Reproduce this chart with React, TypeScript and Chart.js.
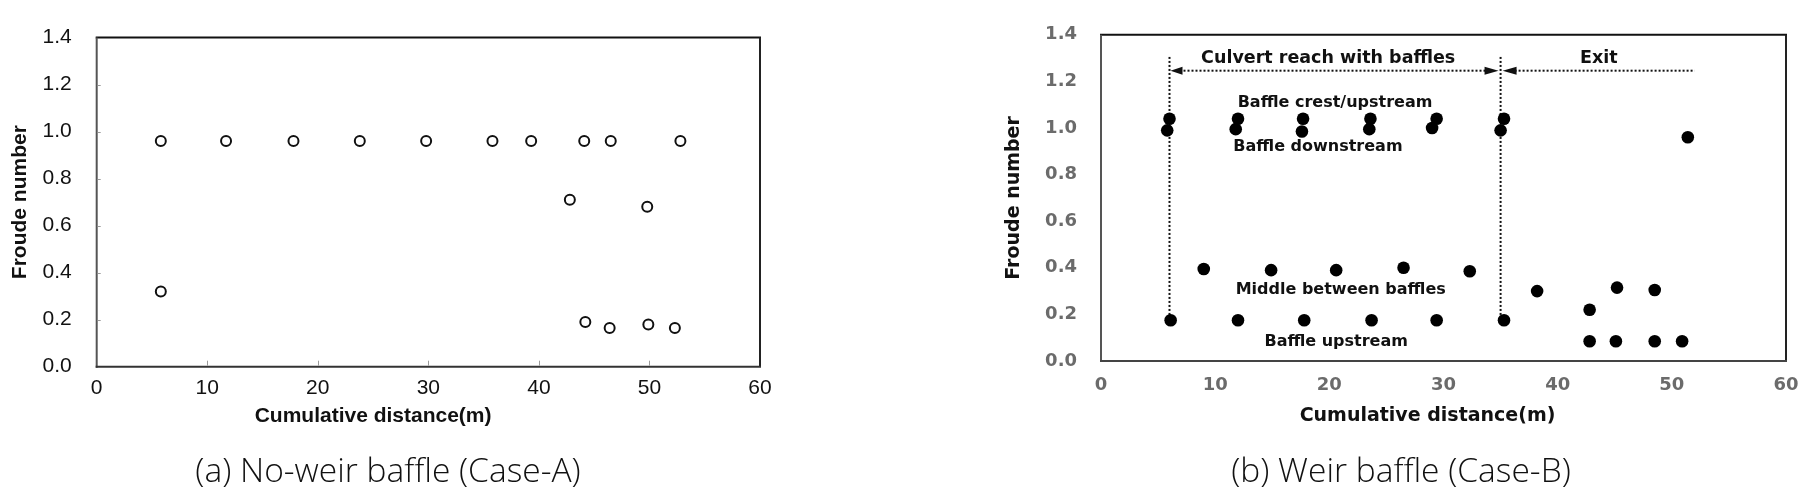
import React, { useEffect, useRef } from "react";
import { Chart, registerables } from "chart.js";

Chart.register(...registerables);

// ---------- shared axes ----------
const X_TICKS = [0, 10, 20, 30, 40, 50, 60];
const Y_TICKS = [0, 0.2, 0.4, 0.6, 0.8, 1.0, 1.2, 1.4];
const X_TITLE = "Cumulative distance(m)";
const Y_TITLE = "Froude number";

// ---------- (a) Case-A : no-weir baffle ----------
const caseA_x = [5.8, 11.7, 17.8, 23.8, 29.8, 35.8, 39.3, 44.1, 46.5, 52.8, 42.8, 49.8, 5.8, 44.2, 46.4, 49.9, 52.3];
const caseA_y = [0.96, 0.96, 0.96, 0.96, 0.96, 0.96, 0.96, 0.96, 0.96, 0.96, 0.71, 0.68, 0.32, 0.19, 0.165, 0.18, 0.165];

// ---------- (b) Case-B : weir baffle ----------
const crest_x = [6.0, 12.0, 17.7, 23.6, 29.4, 35.3];
const crest_y = [1.04, 1.04, 1.04, 1.04, 1.04, 1.04];
const down_x = [5.8, 11.8, 17.6, 23.5, 29.0, 35.0];
const down_y = [0.99, 0.995, 0.985, 0.995, 1.0, 0.99];
const middle_x = [9.0, 14.9, 20.6, 26.5, 32.3];
const middle_y = [0.395, 0.39, 0.39, 0.4, 0.385];
const upstream_x = [6.1, 12.0, 17.8, 23.7, 29.4, 35.3];
const upstream_y = [0.175, 0.175, 0.175, 0.175, 0.175, 0.175];
const exit_x = [38.2, 42.8, 45.2, 48.5, 51.4, 42.8, 45.1, 48.5, 50.9];
const exit_y = [0.3, 0.22, 0.315, 0.305, 0.96, 0.085, 0.085, 0.085, 0.085];

// annotation anchors (data units)
const REACH_BOUNDS = [6, 35, 52];
const GUIDE_TOP = 1.305;
const GUIDE_BOTTOM = 0.19;
const ARROW_LEVEL = 1.246;
const NOTE_TEXT = ["Culvert reach with baffles", "Exit", "Baffle crest/upstream", "Baffle downstream", "Middle between baffles", "Baffle upstream"];
const NOTE_X = [19.9, 43.6, 20.5, 19.0, 21.0, 20.6];
const NOTE_Y = [1.3, 1.3, 1.11, 0.917, 0.306, 0.082];

const CAPTION_A = "(a) No-weir baffle (Case-A)";
const CAPTION_B = "(b) Weir baffle (Case-B)";

const zip = (xs: number[], ys: number[]) => xs.map((x, i) => ({ x, y: ys[i] }));

const framePlugin = {
  id: "frame",
  afterDraw(chart: any, _a: any, opts: any) {
    const { ctx, chartArea: a } = chart;
    ctx.save();
    ctx.lineWidth = 2;
    const seg = (c: string, x1: number, y1: number, x2: number, y2: number) => {
      ctx.strokeStyle = c;
      ctx.beginPath();
      ctx.moveTo(x1, y1);
      ctx.lineTo(x2, y2);
      ctx.stroke();
    };
    seg(opts.top, a.left - 1, a.top, a.right + 1, a.top);
    seg(opts.right, a.right, a.top, a.right, a.bottom);
    seg(opts.left, a.left, a.top, a.left, a.bottom + 1);
    seg(opts.bottom, a.left - 1, a.bottom, a.right + 1, a.bottom);
    if (opts.innerTicks) {
      ctx.lineWidth = 1;
      ctx.strokeStyle = "#9a9a9a";
      const { x, y } = chart.scales;
      y.ticks.forEach((t: any) => {
        const py = Math.round(y.getPixelForValue(t.value)) + 0.5;
        if (py > a.top + 2 && py < a.bottom - 2) {
          ctx.beginPath();
          ctx.moveTo(a.left + 1, py);
          ctx.lineTo(a.left + 4, py);
          ctx.stroke();
        }
      });
      x.ticks.forEach((t: any) => {
        const px = Math.round(x.getPixelForValue(t.value)) + 0.5;
        if (px > a.left + 2 && px < a.right - 2) {
          ctx.beginPath();
          ctx.moveTo(px, a.bottom - 1);
          ctx.lineTo(px, a.bottom - 6);
          ctx.stroke();
        }
      });
    }
    // x-axis title
    const xs = chart.scales.x;
    ctx.fillStyle = "#111";
    ctx.font = opts.titleFont;
    ctx.textAlign = "center";
    ctx.textBaseline = "middle";
    ctx.fillText(X_TITLE, xs.getPixelForValue(opts.titleAt), a.bottom + opts.titleOffset);
    ctx.restore();
  },
};

const guidePlugin = {
  id: "guides",
  beforeDatasetsDraw(chart: any) {
    const { ctx, scales } = chart;
    const { x, y } = scales;
    const [x0, x1, x2] = REACH_BOUNDS.map((v) => x.getPixelForValue(v));
    const yTop = y.getPixelForValue(GUIDE_TOP);
    const yBot = y.getPixelForValue(GUIDE_BOTTOM);
    const yArr = y.getPixelForValue(ARROW_LEVEL);
    ctx.save();
    ctx.strokeStyle = "#111";
    ctx.fillStyle = "#111";
    ctx.lineWidth = 2;
    ctx.setLineDash([2, 2]);
    [x0, x1].forEach((px) => {
      ctx.beginPath();
      ctx.moveTo(px, yTop);
      ctx.lineTo(px, yBot);
      ctx.stroke();
    });
    ctx.beginPath();
    ctx.moveTo(x0 + 10, yArr);
    ctx.lineTo(x1 - 14, yArr);
    ctx.stroke();
    ctx.beginPath();
    ctx.moveTo(x1 + 14, yArr);
    ctx.lineTo(x2, yArr);
    ctx.stroke();
    ctx.setLineDash([]);
    const head = (tip: number, dir: number, len: number) => {
      ctx.beginPath();
      ctx.moveTo(tip, yArr);
      ctx.lineTo(tip + dir * len, yArr - 4);
      ctx.lineTo(tip + dir * len, yArr + 4);
      ctx.closePath();
      ctx.fill();
    };
    head(x0 + 1, 1, 12);
    head(x1 - 2, -1, 14);
    head(x1 + 2, 1, 14);
    ctx.restore();
  },
  afterDatasetsDraw(chart: any) {
    const { ctx, scales } = chart;
    const { x, y } = scales;
    ctx.save();
    ctx.fillStyle = "#111";
    ctx.textAlign = "center";
    ctx.textBaseline = "middle";
    NOTE_TEXT.forEach((t, i) => {
      ctx.font = `bold ${i < 2 ? 17.5 : 16}px "DejaVu Sans"`;
      ctx.fillText(t, x.getPixelForValue(NOTE_X[i]), y.getPixelForValue(NOTE_Y[i]));
    });
    ctx.restore();
  },
};

function makeScales(o: any) {
  return {
    x: {
      type: "linear",
      min: 0,
      max: 60,
      afterBuildTicks: (s: any) => {
        s.ticks = X_TICKS.map((v) => ({ value: v }));
      },
      afterFit: (s: any) => {
        s.height = 80;
      },
      grid: { display: false, drawTicks: false },
      border: { display: false },
      ticks: { font: o.tickFont, color: o.tickColor, padding: o.xPad },
      title: { display: false },
    },
    y: {
      type: "linear",
      min: 0,
      max: 1.4,
      afterBuildTicks: (s: any) => {
        s.ticks = Y_TICKS.map((v) => ({ value: v }));
      },
      afterFit: (s: any) => {
        s.width = o.yWidth;
      },
      grid: { display: false, drawTicks: false },
      border: { display: false },
      ticks: {
        font: o.tickFont,
        color: o.tickColor,
        padding: o.yPad,
        callback: (v: any) => Number(v).toFixed(1),
      },
      title: {
        display: true,
        text: Y_TITLE,
        color: "#111",
        font: o.titleFont,
        padding: { top: o.yTitlePad, bottom: 0 },
      },
    },
  };
}

function ChartCanvas({ config, width, height, left }: any) {
  const ref = useRef<HTMLCanvasElement>(null);
  useEffect(() => {
    const chart = new Chart(ref.current as HTMLCanvasElement, config());
    return () => chart.destroy();
  }, []);
  return (
    <canvas
      ref={ref}
      width={width}
      height={height}
      style={{ position: "absolute", left, top: 0, width, height }}
    />
  );
}

const configA = () => ({
  type: "scatter",
  data: {
    datasets: [
      {
        label: "Case-A",
        data: zip(caseA_x, caseA_y),
        pointRadius: 5,
        pointBorderWidth: 2,
        pointBorderColor: "#111",
        pointBackgroundColor: "#fff",
      },
    ],
  },
  options: {
    animation: false,
    responsive: false,
    maintainAspectRatio: false,
    devicePixelRatio: 1,
    layout: { padding: { left: 0, top: 16.7, right: 100, bottom: 49.3 } },
    plugins: {
      legend: { display: false },
      tooltip: { enabled: false },
      frame: {
        top: "#111",
        right: "#222",
        left: "#555",
        bottom: "#333",
        innerTicks: true,
        titleFont: 'bold 21px "Liberation Sans"',
        titleAt: 25.0,
        titleOffset: 50,
      },
    },
    scales: makeScales({
      tickFont: { family: "Liberation Sans", size: 21 },
      tickColor: "#111",
      xPad: 8.7,
      yPad: 25,
      yWidth: 96.7,
      titleFont: { family: "Liberation Sans", size: 21, weight: "bold" },
      yTitlePad: 8,
    }),
  },
  plugins: [framePlugin],
});

const configB = () => ({
  type: "scatter",
  data: {
    datasets: [
      { label: "Baffle crest/upstream", data: zip(crest_x, crest_y) },
      { label: "Baffle downstream", data: zip(down_x, down_y) },
      { label: "Middle between baffles", data: zip(middle_x, middle_y) },
      { label: "Baffle upstream", data: zip(upstream_x, upstream_y) },
      { label: "Exit", data: zip(exit_x, exit_y) },
    ].map((d) => ({
      ...d,
      pointRadius: 6.3,
      pointBorderWidth: 0,
      pointBackgroundColor: "#000",
      pointBorderColor: "#000",
    })),
  },
  options: {
    animation: false,
    responsive: false,
    maintainAspectRatio: false,
    devicePixelRatio: 1,
    layout: { padding: { left: 130, top: 19, right: 26, bottom: 55 } },
    plugins: {
      legend: { display: false },
      tooltip: { enabled: false },
      frame: {
        top: "#111",
        right: "#222",
        left: "#555",
        bottom: "#444",
        innerTicks: false,
        titleFont: 'bold 19px "DejaVu Sans"',
        titleAt: 28.6,
        titleOffset: 54.7,
      },
    },
    scales: makeScales({
      tickFont: { family: "DejaVu Sans", size: 18, weight: "bold" },
      tickColor: "#6b6b6b",
      xPad: 13.2,
      yPad: 24,
      yWidth: 111,
      titleFont: { family: "DejaVu Sans", size: 19, weight: "bold" },
      yTitlePad: 12.6,
    }),
  },
  plugins: [guidePlugin, framePlugin],
});

const captionStyle = (cx: number): React.CSSProperties => ({
  position: "absolute",
  left: cx,
  top: 470,
  transform: "translate(-50%, -50%)",
  fontFamily: '"Open Sans", "Noto Sans CJK KR", sans-serif',
  fontWeight: 300,
  fontSize: 33.5,
  lineHeight: 1,
  whiteSpace: "nowrap",
  color: "#111",
});

export default function App() {
  return (
    <div
      style={{
        position: "fixed",
        left: 0,
        top: 0,
        width: 1812,
        height: 496,
        background: "#fff",
        overflow: "hidden",
      }}
    >
      <ChartCanvas config={configA} width={860} height={496} left={0} />
      <ChartCanvas config={configB} width={952} height={496} left={860} />
      <div style={captionStyle(388)}>{CAPTION_A}</div>
      <div style={captionStyle(1401)}>{CAPTION_B}</div>
    </div>
  );
}
